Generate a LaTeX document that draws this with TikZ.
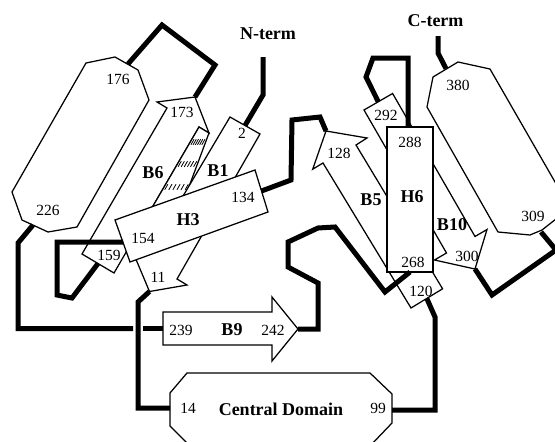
\documentclass[tikz,border=0pt]{standalone}
\usepackage{fontspec}
\setmainfont{Liberation Serif}
\begin{document}
\begin{tikzpicture}[x=1pt,y=-1pt,
  elem/.style={draw=black, fill=white, line width=1.25pt, line join=miter},
  loopline/.style={draw=black, line width=5pt, line join=miter},
  tick/.style={draw=black, line width=0.8pt},
  num/.style={inner sep=0pt, font=\fontsize{15.5}{16}\selectfont},
  lab/.style={inner sep=0pt, font=\fontsize{18}{18}\selectfont\bfseries}]
\useasboundingbox (0,0) rectangle (555,442);
\clip (0,0) rectangle (555,442);

% ---------- connection points ----------
\coordinate (h176top) at (128,64);
\coordinate (h226bot) at (33,225);
\coordinate (b6tip) at (195,97);
\coordinate (b6tail) at (98,263.5);
\coordinate (b1tail) at (245,125.5);
\coordinate (b1tip) at (149.5,291.5);
\coordinate (h3left) at (123,242);
\coordinate (h3right) at (261.5,191);
\coordinate (b9tail) at (163,328.5);
\coordinate (b9tip) at (298,329);
\coordinate (cd14) at (170,408);
\coordinate (cd99) at (392,410);
\coordinate (b5tail) at (426.8,298.5);
\coordinate (b5tip) at (326,131);
\coordinate (h6top) at (408,127);
\coordinate (h6bot) at (410,272);
\coordinate (b10tail) at (378.3,101.8);
\coordinate (b10tip) at (475,269);
\coordinate (h309) at (541,232);
\coordinate (h380) at (446,68.6);
\coordinate (nterm) at (263,57);
\coordinate (cterm) at (438,36);

% ---------- helices (large) ----------
\draw[elem] (86,63) -- (115,57) -- (138,70) -- (149,100) -- (77,227) -- (48,232) -- (22,220) -- (12,192) -- cycle;
\draw[elem] (433,77) -- (458,62) -- (490,69) -- (570,208) -- (542,230) -- (530,235) -- (498,232) -- (427,107) -- cycle;

% ---------- B6 ----------
\draw[elem] (82,254) -- (167,108) -- (157,102) -- (b6tip) -- (209,133) -- (199,127) -- (114,273) -- cycle;
% hatched strip between B6 and B1
\draw[elem] (199,127) -- (209,133) -- (180.3,210) -- (150.7,210) -- cycle;
\foreach \ya/\xl/\xr in {142/190.3/205.6, 164/177.5/197.4, 187/164.1/188.9}{
  \foreach \i in {0,...,5}{
    \pgfmathsetmacro{\xx}{\xl+2.2+(\xr-\xl-4.4)*\i/5}
    \draw[tick] (\xx+1.6,\ya-2.8) -- (\xx-1.6,\ya+2.8);
  }
}
% ---------- B1 ----------
\draw[elem] (230,117) -- (260,134) -- (177,279) -- (187,285) -- (b1tip) -- (135,257) -- (148,255) -- cycle;
% ---------- H3 ----------
\draw[elem] (115,220) -- (255,170) -- (268,212) -- (130,262) -- cycle;

% ---------- loops, left part ----------
\draw[loopline] (h176top) -- (162,25) -- (215,65) -- (b6tip);
\draw[loopline] (nterm) -- (263,95) -- (b1tail);
\draw[loopline] (h3left) -- (57,242) -- (57,295) -- (72,298) -- (b6tail);
\draw[loopline] (b5tip) -- (320,117) -- (292,120) -- (291,180) -- (h3right);

% ---------- B9 and Central Domain ----------
\draw[elem] (163,312) -- (272,312) -- (272,297) -- (b9tip) -- (272,361) -- (272,345) -- (163,345) -- cycle;
\draw[elem] (187,373) -- (370,373) -- (392,394) -- (392,423) -- (370,446) -- (190,446) -- (170,426) -- (170,393) -- cycle;

\coordinate (gapL) at (133,328.5);
\coordinate (gapR) at (143,328.5);
\draw[loopline] (h226bot) -- (18,243) -- (18,328.5) -- (gapL);
\draw[loopline] (gapR) -- (b9tail);
\draw[loopline] (b1tip) -- (138,302) -- (138,408) -- (cd14);
\draw[loopline] (cd99) -- (435,410) -- (435,317) -- (b5tail);

% ---------- B5, B10, H6 ----------
\draw[elem] (411,308) -- (323,163) -- (312.7,169.2) -- (b5tip) -- (367,138) -- (356,145) -- (442.6,288.8) -- cycle;
\draw[elem] (364,110) -- (392.6,93.5) -- (475,236.5) -- (487,229.5) -- (b10tip) -- (434.5,260) -- (446.5,253) -- cycle;
\draw[elem] (387,127) rectangle (433,272);

\draw[loopline] (b9tip) -- (318,329) -- (318,283) -- (288,267) -- (288,242) -- (318,228) -- (335,227) -- (385,292) -- (h6bot);
\draw[loopline] (h6top) -- (408,58) -- (373,58) -- (366,77) -- (b10tail);
\draw[loopline] (b10tip) -- (492,295) -- (556,250) -- (h309);
\draw[loopline] (cterm) -- (438,53) -- (h380);

% ---------- labels ----------
\node[num] (t176) at (118,79) {176};
\node[num] (t226) at (48,210) {226};
\node[num] (t173) at (182,112) {173};
\node[num] (t2) at (242,133) {2};
\node[lab] (tB6) at (153,173) {B6};
\node[lab] (tB1) at (218,171) {B1};
\node[num] (t134) at (243,197) {134};
\node[lab] (tH3) at (188,220) {H3};
\node[num] (t154) at (143,238) {154};
\node[num] (t159) at (109,255) {159};
\node[num] (t11) at (158,277) {11};
\node[num] (t239) at (181,330) {239};
\node[lab] (tB9) at (232,330) {B9};
\node[num] (t242) at (273,330) {242};
\node[num] (t14) at (188,408) {14};
\node[lab] (tCD) at (281,409) {Central Domain};
\node[num] (t99) at (378,408) {99};
\node[num] (t128) at (339,153) {128};
\node[num] (t292) at (386,115) {292};
\node[num] (t288) at (410,142) {288};
\node[lab] (tH6) at (412,197) {H6};
\node[lab] (tB5) at (371,200) {B5};
\node[num] (t268) at (413,262) {268};
\node[lab] (tB10) at (452,225) {B10};
\node[num] (t300) at (467,256) {300};
\node[num] (t309) at (533,216) {309};
\node[num] (t380) at (458,85) {380};
\node[num] (t120) at (421,291) {120};
\node[lab] (tN) at (268,34) {N-term};
\node[lab] (tC) at (435.5,21) {C-term};
\end{tikzpicture}
\end{document}
